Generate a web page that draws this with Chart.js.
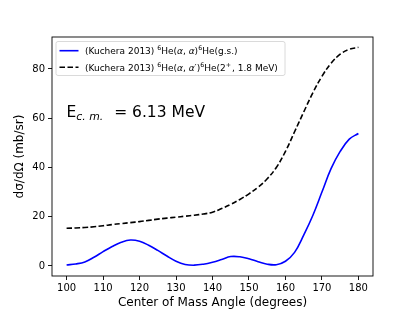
<!DOCTYPE html>
<html lang="en">
<head>
    <meta charset="UTF-8">
    <title>6He(a,a) Kuchera 2013</title>
    <style>
        html, body { margin: 0; padding: 0; background: #fff; }
    </style>
</head>
<body>
    <canvas id="xsChart" width="415" height="311"></canvas>
    <script src="https://cdn.jsdelivr.net/npm/chart.js"></script>
    <script>
        // centre of mass angle (degrees)
        const angles = [100, 102.5, 105, 107.5, 110, 112.5, 115, 117.5, 120, 122.5, 125, 127.5, 130, 132.5, 135, 137.5,
            140, 142.5, 145, 147.5, 150, 152.5, 155, 157.5, 160, 162.5, 165, 167.5, 170, 172.5, 175, 177.5, 180]
        // 6He(a,a)6He(g.s.)  mb/sr
        const gsValues = [0.4, 0.8, 1.6, 3.5, 5.8, 7.9, 9.6, 10.5, 10.0, 8.4, 6.3, 4.0, 1.9, 0.6, 0.3, 0.7,
            1.5, 2.6, 3.8, 3.7, 2.9, 1.7, 0.7, 0.5, 1.9, 5.5, 12.5, 20.5, 30.0, 39.5, 46.5, 51.5, 53.8]
        // 6He(a,a')6He(2+, 1.8 MeV)  mb/sr
        const exValues = [15.3, 15.4, 15.6, 15.9, 16.3, 16.8, 17.2, 17.6, 18.0, 18.5, 19.0, 19.4, 19.8, 20.2, 20.6, 21.1,
            21.8, 23.3, 25.0, 27.0, 29.3, 32.0, 35.4, 40.0, 46.5, 54.5, 62.5, 70.3, 77.0, 82.3, 86.0, 88.0, 88.8]
        const xTicks = [100, 110, 120, 130, 140, 150, 160, 170, 180]
        const yTicks = [0, 20, 40, 60, 80]

        const FONT = "'DejaVu Sans', sans-serif"

        function toPoints(xs, ys) {
            return xs.map((x, i) => ({ x: x, y: ys[i] }))
        }

        // draws a list of text pieces, with superscripts / italics like mathtext
        function drawRich(ctx, parts, x, y, size) {
            ctx.textBaseline = 'alphabetic'
            ctx.textAlign = 'left'
            parts.forEach(p => {
                let s = size
                let dy = 0
                if (p.sup) { s = size * 0.7; dy = -size * 0.38 }
                if (p.sub) { s = size * 0.7; dy = size * 0.22 }
                ctx.font = (p.it ? 'italic ' : '') + s + 'px ' + FONT
                ctx.fillText(p.t, x, y + dy)
                x += ctx.measureText(p.t).width + (p.gap || 0)
            })
        }

        const legendRows = [
            {
                color: '#0000ff', dash: [],
                parts: [{ t: '(Kuchera 2013) ' }, { t: '6', sup: true }, { t: 'He(' }, { t: 'α', it: true }, { t: ', ' },
                    { t: 'α', it: true }, { t: ')' }, { t: '6', sup: true }, { t: 'He(g.s.)' }]
            },
            {
                color: '#000000', dash: [5.5, 2.5],
                parts: [{ t: '(Kuchera 2013) ' }, { t: '6', sup: true }, { t: 'He(' }, { t: 'α', it: true }, { t: ', ' },
                    { t: 'α', it: true }, { t: '′' }, { t: ')' }, { t: '6', sup: true }, { t: 'He(2' },
                    { t: '+', sup: true, gap: 1 }, { t: ', 1.8 MeV)' }]
            }
        ]

        const framePlugin = {
            id: 'frame',
            afterDatasetsDraw(chart) {
                const ctx = chart.ctx
                const a = chart.chartArea
                ctx.save()
                ctx.strokeStyle = '#000'
                ctx.lineWidth = 0.9
                ctx.strokeRect(a.left, a.top, a.right - a.left, a.bottom - a.top)

                // legend box
                const bx = 56, by = 41.5, bw = 229, bh = 34
                ctx.beginPath()
                ctx.roundRect(bx, by, bw, bh, 2)
                ctx.fillStyle = 'rgba(255,255,255,0.8)'
                ctx.fill()
                ctx.strokeStyle = '#d0d0d0'
                ctx.lineWidth = 0.8
                ctx.stroke()
                legendRows.forEach((row, i) => {
                    const ly = 50.7 + i * 16.6
                    ctx.beginPath()
                    ctx.setLineDash(row.dash)
                    ctx.strokeStyle = row.color
                    ctx.lineWidth = 1.6
                    ctx.moveTo(59.5, ly)
                    ctx.lineTo(78.5, ly)
                    ctx.stroke()
                    ctx.setLineDash([])
                    ctx.fillStyle = '#000'
                    drawRich(ctx, row.parts, 85, ly + 3.2, 9)
                })

                // energy annotation
                ctx.fillStyle = '#000'
                drawRich(ctx, [{ t: 'E' }, { t: 'c. m.', it: true, sub: true, gap: 11 }, { t: '= 6.13 MeV' }], 66.5, 117, 15.5)
                ctx.restore()
            }
        }

        const ctx = document.getElementById('xsChart')
        const xsChart = new Chart(ctx, {
            type: 'line',
            data: {
                datasets: [{
                    label: 'gs',
                    data: toPoints(angles, gsValues),
                    borderColor: '#0000ff',
                    borderWidth: 1.6,
                    pointRadius: 0,
                    tension: 0.4
                }, {
                    label: 'ex',
                    data: toPoints(angles, exValues),
                    borderColor: '#000000',
                    borderWidth: 1.6,
                    borderDash: [5.5, 2.5],
                    pointRadius: 0,
                    tension: 0.4
                }]
            },
            options: {
                responsive: false,
                animation: false,
                devicePixelRatio: 1,
                layout: { padding: { top: 37, right: 42, left: 0, bottom: 0 } },
                plugins: { legend: { display: false }, tooltip: { enabled: false } },
                scales: {
                    x: {
                        type: 'linear',
                        min: 96,
                        max: 184,
                        afterBuildTicks: s => { s.ticks = xTicks.map(v => ({ value: v })) },
                        afterFit: s => { s.height = 35 },
                        border: { display: false },
                        grid: { drawOnChartArea: false, tickLength: 4, color: '#000', lineWidth: 0.9 },
                        ticks: { color: '#000', font: { family: FONT, size: 10 }, padding: 2, maxRotation: 0 },
                        title: {
                            display: true, text: 'Center of Mass Angle (degrees)', color: '#000',
                            font: { family: FONT, size: 12 }, padding: { top: 0, bottom: 1 }
                        }
                    },
                    y: {
                        min: -4.1,
                        max: 93,
                        afterBuildTicks: s => { s.ticks = yTicks.map(v => ({ value: v })) },
                        afterFit: s => { s.width = 52 },
                        border: { display: false },
                        grid: { drawOnChartArea: false, tickLength: 4, color: '#000', lineWidth: 0.9 },
                        ticks: { color: '#000', font: { family: FONT, size: 10 }, padding: 3 },
                        title: {
                            display: true, text: 'dσ/dΩ (mb/sr)', color: '#000',
                            font: { family: FONT, size: 12 }, padding: { top: 13, bottom: 0 }
                        }
                    }
                }
            },
            plugins: [framePlugin]
        })
    </script>
</body>
</html>
